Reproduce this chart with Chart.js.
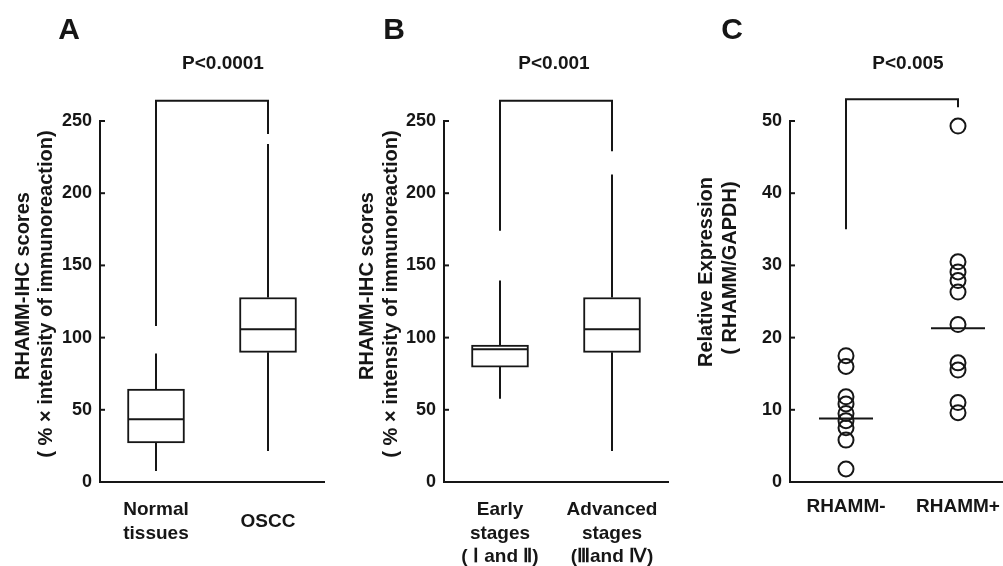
<!DOCTYPE html>
<html lang="en">
<head>
<meta charset="UTF-8">
<script src="https://cdn.jsdelivr.net/npm/chart.js"></script>
<style>
  html, body { margin: 0; padding: 0; background: #fff; }
  body { position: relative; width: 1003px; height: 566px; overflow: hidden; }
  .panel { position: absolute; top: 0; width: 340px; height: 566px; }
</style>
</head>
<body>
<div class="panel" style="left:0px"><canvas id="chartA" width="340" height="566"></canvas></div>
<div class="panel" style="left:344px"><canvas id="chartB" width="340" height="566"></canvas></div>
<div class="panel" style="left:690px"><canvas id="chartC" width="340" height="566"></canvas></div>
<script>
// panel A - normal tissue vs OSCC
const labelsA = [['Normal', 'tissues'], 'OSCC']
const minA = [7.6, 21.4]
const q1A = [27.0, 89.8]
const medA = [43.5, 105.8]
const q3A = [64.3, 127.8]
const maxA = [89.0, 234.0]
const bracketA = [108, 264, 241]   // left end, top, right end (score units)

// panel B - early vs advanced stages
const labelsB = [['Early', 'stages', '( \u2160 and \u2161)'], ['Advanced', 'stages', '(\u2162and \u2163)']]
const minB = [57.6, 21.4]
const q1B = [79.6, 89.8]
const medB = [92.0, 105.8]
const q3B = [94.8, 127.8]
const maxB = [139.6, 213.0]
const bracketB = [174, 264, 229]

// panel C - relative expression
const labelsC = ['RHAMM-', 'RHAMM+']
const rhammNeg = [17.5, 16.0, 11.8, 10.8, 9.5, 8.5, 7.5, 5.8, 1.8]
const rhammPos = [49.3, 30.5, 29.1, 27.9, 26.3, 21.8, 16.5, 15.5, 11.0, 9.6]
const medC = [8.8, 21.3]
const bracketC = [35, 53, 51.9]

const scoreTitle = ['RHAMM-IHC scores', '( % \u00d7 intensity of immunoreaction)']
const exprTitle = ['Relative Expression', '( RHAMM/GAPDH)']

const ink = '#161616'
const fam = '"Liberation Sans", Arial, Helvetica, sans-serif'

function line(ctx, x1, y1, x2, y2) {
    ctx.beginPath()
    ctx.moveTo(x1, y1)
    ctx.lineTo(x2, y2)
    ctx.stroke()
}

// whiskers, medians, inner ticks, bracket and panel texts
const panelPlugin = {
    id: 'panel',
    afterDatasetsDraw(chart, args, o) {
        const ctx = chart.ctx
        const xs = chart.scales.x
        const ys = chart.scales.y
        ctx.save()
        ctx.strokeStyle = ink
        ctx.lineWidth = 2
        if (o.box) {
            o.box.med.forEach((m, i) => {
                const cx = xs.getPixelForValue(i)
                const half = o.boxWidth / 2 - 1
                line(ctx, cx, ys.getPixelForValue(o.box.q3[i]), cx, ys.getPixelForValue(o.box.max[i]))
                line(ctx, cx, ys.getPixelForValue(o.box.q1[i]), cx, ys.getPixelForValue(o.box.min[i]))
                line(ctx, cx - half, ys.getPixelForValue(m), cx + half, ys.getPixelForValue(m))
            })
        }
        if (o.medians) {
            o.medians.forEach((m, i) => {
                const cx = xs.getPixelForValue(i)
                line(ctx, cx - 27, ys.getPixelForValue(m), cx + 27, ys.getPixelForValue(m))
            })
        }
        // inner tick marks
        ys.ticks.forEach(t => {
            const py = ys.getPixelForValue(t.value)
            line(ctx, xs.left, py, xs.left + 5, py)
        })
        // significance bracket
        const b = o.bracket
        const x0 = xs.getPixelForValue(0)
        const x1 = xs.getPixelForValue(1)
        ctx.beginPath()
        ctx.moveTo(x0, ys.getPixelForValue(b[0]))
        ctx.lineTo(x0, ys.getPixelForValue(b[1]))
        ctx.lineTo(x1, ys.getPixelForValue(b[1]))
        ctx.lineTo(x1, ys.getPixelForValue(b[2]))
        ctx.stroke()
        // letter and p value
        ctx.fillStyle = ink
        ctx.textAlign = 'center'
        ctx.textBaseline = 'middle'
        ctx.font = 'bold 30px ' + fam
        ctx.fillText(o.letter, o.letterX, 31)
        ctx.font = 'bold 19px ' + fam
        ctx.fillText(o.pText, o.pX, 64)
        // rotated y-axis title, two lines
        ctx.font = 'bold 20px ' + fam
        o.title.forEach((t, i) => {
            ctx.save()
            ctx.translate(o.titleX[i], o.titleY[i])
            ctx.rotate(-Math.PI / 2)
            ctx.fillText(t, 0, 0)
            ctx.restore()
        })
        ctx.restore()
    }
}

function yAxis(max, step) {
    return {
        min: 0,
        max: max,
        ticks: { stepSize: step, color: ink, padding: 8, font: { family: fam, size: 18, weight: 'bold' } },
        grid: { drawOnChartArea: false, drawTicks: false },
        border: { color: ink, width: 2 },
        afterFit: s => { s.width = 100 }
    }
}

function xAxis(pad) {
    return {
        offset: true,
        ticks: {
            color: ink, padding: pad, crossAlign: 'center', maxRotation: 0, autoSkip: false,
            font: { family: fam, size: 19, weight: 'bold', lineHeight: 1.24 }
        },
        grid: { drawOnChartArea: false, drawTicks: false },
        border: { color: ink, width: 2 },
        afterFit: s => {
            s.height = 84
            s.paddingLeft = 0
            s.paddingRight = 0
        }
    }
}

function boxChart(id, labels, q1, q3, box, bracket, letter, letterX, pText, pX, titleX) {
    new Chart(document.getElementById(id), {
        type: 'bar',
        data: {
            labels: labels,
            datasets: [{
                data: q1.map((v, i) => [v, q3[i]]),
                backgroundColor: '#fff',
                borderColor: ink,
                borderWidth: 2,
                borderSkipped: false,
                barThickness: 57
            }]
        },
        options: {
            responsive: false,
            animation: false,
            layout: { padding: { top: 121, right: 16, bottom: 0, left: 0 } },
            plugins: {
                legend: { display: false },
                tooltip: { enabled: false },
                panel: {
                    box: box, boxWidth: 57, bracket: bracket, letter: letter, letterX: letterX,
                    pText: pText, pX: pX, title: scoreTitle, titleX: titleX, titleY: [286, 294]
                }
            },
            scales: { x: xAxis(28), y: yAxis(250, 50) }
        },
        plugins: [panelPlugin]
    })
}

boxChart('chartA', labelsA, q1A, q3A, { min: minA, q1: q1A, med: medA, q3: q3A, max: maxA },
    bracketA, 'A', 69, 'P<0.0001', 223, [23, 46])
boxChart('chartB', labelsB, q1B, q3B, { min: minB, q1: q1B, med: medB, q3: q3B, max: maxB },
    bracketB, 'B', 50, 'P<0.001', 210, [23, 47])

new Chart(document.getElementById('chartC'), {
    type: 'line',
    data: {
        labels: labelsC,
        datasets: [
            { data: rhammNeg.map(v => ({ x: labelsC[0], y: v })) },
            { data: rhammPos.map(v => ({ x: labelsC[1], y: v })) }
        ]
    },
    options: {
        responsive: false,
        animation: false,
        clip: false,
        showLine: false,
        elements: {
            point: { radius: 7.5, borderWidth: 2, borderColor: ink, backgroundColor: 'rgba(255,255,255,0)' }
        },
        layout: { padding: { top: 121, right: 16, bottom: 0, left: 0 } },
        plugins: {
            legend: { display: false },
            tooltip: { enabled: false },
            panel: {
                medians: medC, bracket: bracketC, letter: 'C', letterX: 42, pText: 'P<0.005', pX: 218,
                title: exprTitle, titleX: [16, 40], titleY: [272, 268]
            }
        },
        scales: { x: xAxis(25), y: yAxis(50, 10) }
    },
    plugins: [panelPlugin]
})
</script>
</body>
</html>
